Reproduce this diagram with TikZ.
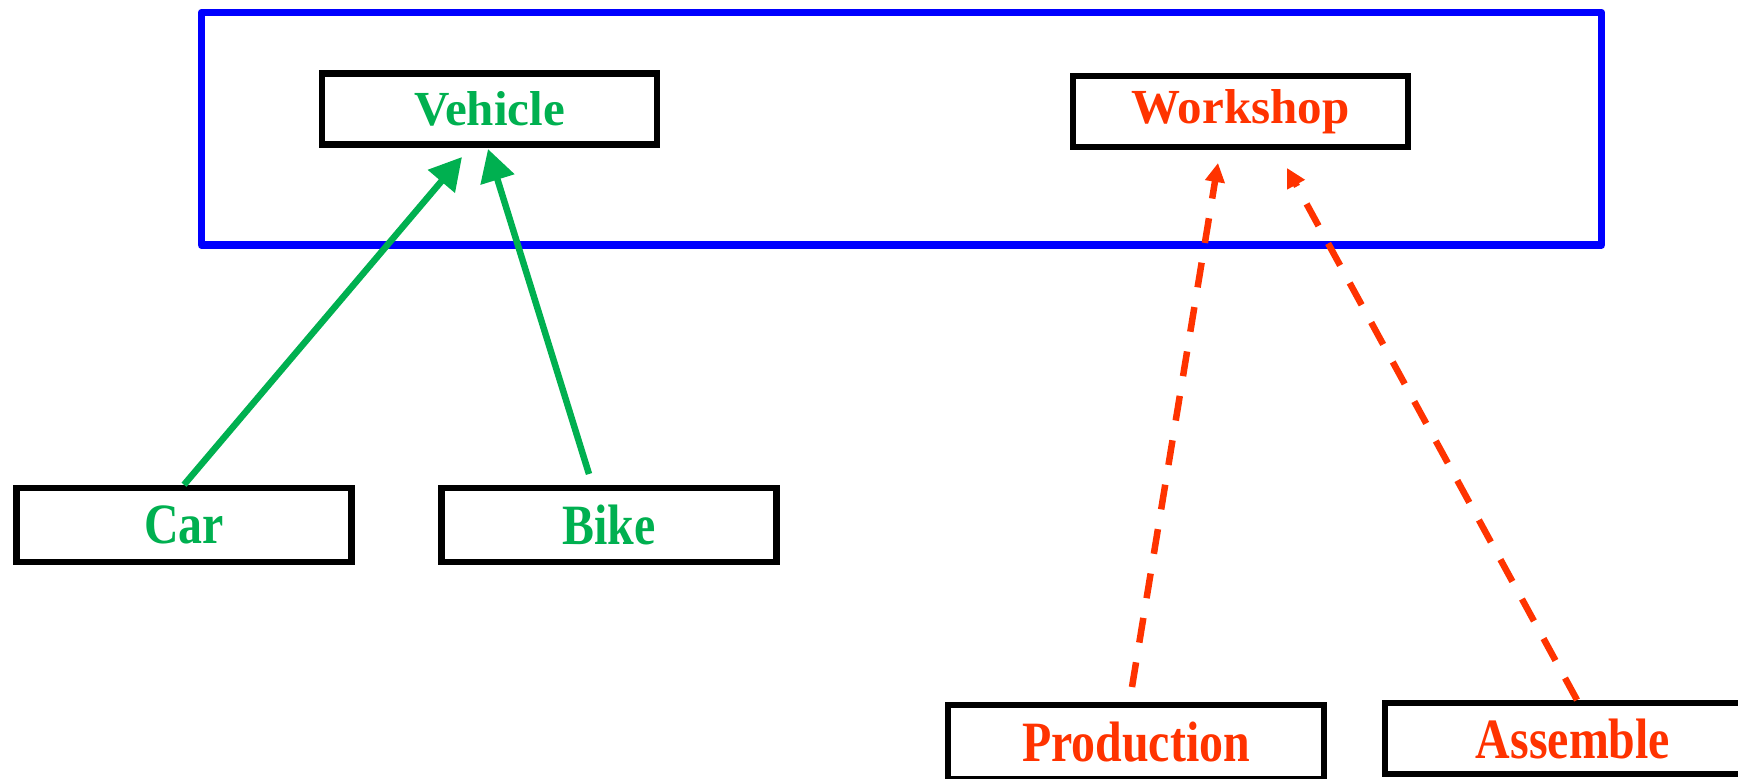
\documentclass[tikz,border=0pt]{standalone}
\usepackage{fontspec}
\usepackage{graphicx}
\setmainfont{Liberation Serif}
\usetikzlibrary{arrows.meta}
\definecolor{leafgreen}{HTML}{00B050}
\definecolor{flame}{HTML}{FF3300}
\definecolor{frameblue}{HTML}{0000FF}
\tikzset{
  box/.style={draw=black, line width=6.5pt, fill=white, inner sep=0pt,
    minimum width=335pt, minimum height=71pt},
  widebox/.style={box, minimum width=376pt},
  toplabel/.style={font=\fontsize{49}{49}\selectfont\bfseries},
  lowlabel/.style={font=\fontsize{57}{57}\selectfont\bfseries},
  inherit/.style={draw=leafgreen, line width=6.5pt,
    -{Triangle[length=32pt,width=34pt]}},
  depends/.style={draw=flame, line width=6.5pt, dash pattern=on 25pt off 20pt,
    -{Triangle[length=19pt,width=19pt]}},
}
\newcommand{\narrow}[1]{\scalebox{0.84}[1]{#1}}
\begin{document}
\begin{tikzpicture}[x=1pt,y=-1pt]
  \useasboundingbox (0,0) rectangle (1738,779);
  % package frame
  \draw[frameblue, line width=7.5pt, line join=round] (201.5,12.5) rectangle (1601.5,245);
  % classes
  \node[box, toplabel, text=leafgreen] (vehicle) at (489.5,109) {Vehicle};
  \node[box, toplabel, text=flame] (workshop) at (1240.5,111.5) {Workshop};
  \node[box, lowlabel, text=leafgreen, minimum height=74pt] (car) at (184,525) {\narrow{Car}};
  \node[box, lowlabel, text=leafgreen, minimum height=74pt] (bike) at (609,525) {\narrow{Bike}};
  \node[widebox, lowlabel, text=flame, minimum height=74pt] (production) at (1136,742) {\narrow{Production}};
  \node[widebox, lowlabel, text=flame, minimum height=71pt] (assemble) at (1573,738.5) {\narrow{Assemble}};
  % connector ends
  \coordinate (carTip) at (462,157);
  \coordinate (bikeTip) at (488,149);
  \coordinate (bikeFoot) at (589,474);
  \coordinate (prodTip) at (1218,163);
  \coordinate (prodFoot) at (1132,687);
  \coordinate (asmTip) at (1287,168);
  \coordinate (asmFoot) at (1577,700);
  % generalisations
  \draw[inherit] (car.north) -- (carTip);
  \draw[inherit] (bikeFoot) -- (bikeTip);
  % dependencies
  \draw[depends] (prodFoot) -- (prodTip);
  \draw[depends] (asmFoot) -- (asmTip);
\end{tikzpicture}
\end{document}
